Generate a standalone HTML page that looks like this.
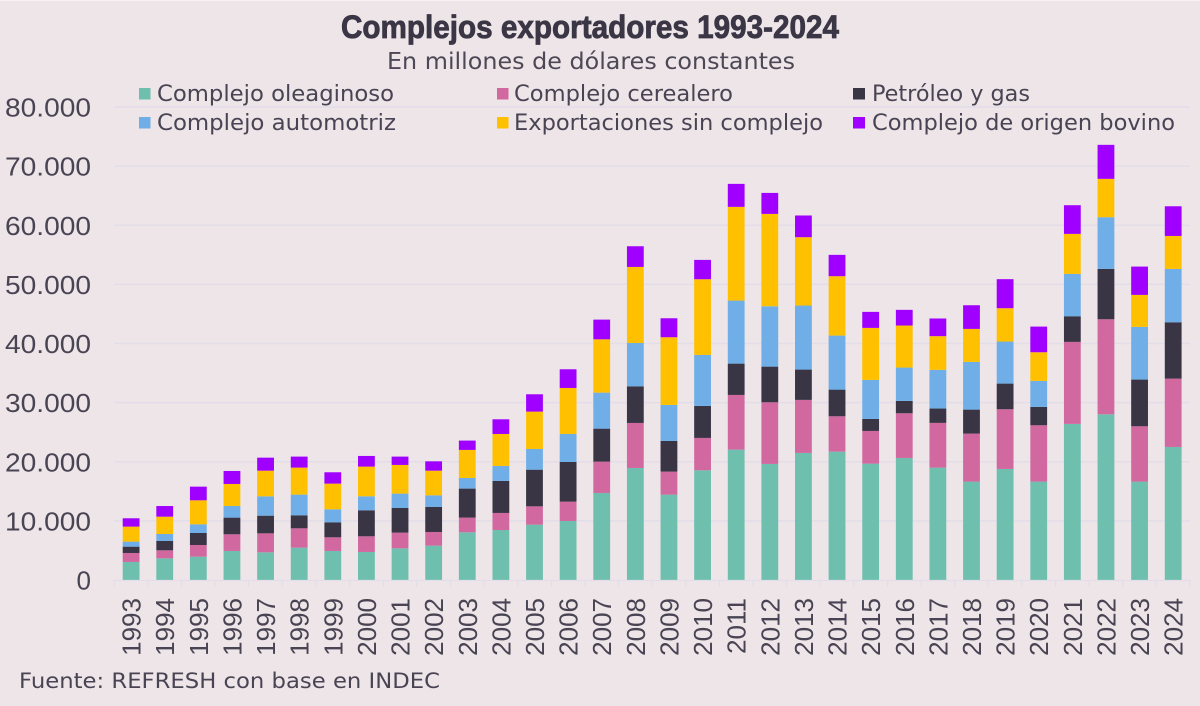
<!DOCTYPE html>
<html lang="es">
<head>
<meta charset="utf-8">
<title>Complejos exportadores 1993-2024</title>
<style>
html,body{margin:0;padding:0;background:#EDE5E8;}
svg{display:block;}
text{fill:#3B3645;}
.sans{font-family:"DejaVu Sans","Liberation Sans",sans-serif;}
.lib{font-family:"Liberation Sans",sans-serif;}
</style>
</head>
<body>
<svg id="chart" xmlns="http://www.w3.org/2000/svg" width="1200" height="706" viewBox="0 0 1200 706">
  <rect x="0" y="0" width="1200" height="706" fill="#EDE5E8"/>
  <rect x="0" y="0" width="1200" height="1" fill="#F7F3F5"/>
  <g id="grid"></g>
  <g id="bars"></g>
  <g id="xaxis"></g>
  <g id="yaxis"></g>

  <text class="lib" x="341" y="38" font-size="32" font-weight="700" stroke="#3B3645" stroke-width="0.8" textLength="498" lengthAdjust="spacingAndGlyphs">Complejos exportadores 1993-2024</text>
  <text class="sans" x="387" y="69" font-size="23" textLength="408" lengthAdjust="spacingAndGlyphs" fill-opacity="0.9">En millones de dólares constantes</text>

  <g>
    <g>
      <rect x="139" y="88" width="11.5" height="11.5" fill="#6FBFAE"/>
      <text class="sans" x="157" y="101" font-size="22" textLength="237" lengthAdjust="spacingAndGlyphs" fill-opacity="0.92">Complejo oleaginoso</text>
    </g>
    <g>
      <rect x="497" y="88" width="11.5" height="11.5" fill="#D268A0"/>
      <text class="sans" x="514" y="101" font-size="22" textLength="219" lengthAdjust="spacingAndGlyphs" fill-opacity="0.92">Complejo cerealero</text>
    </g>
    <g>
      <rect x="853" y="88" width="12" height="11.5" fill="#3A3545"/>
      <text class="sans" x="872" y="101" font-size="22" textLength="158" lengthAdjust="spacingAndGlyphs" fill-opacity="0.92">Petróleo y gas</text>
    </g>
    <g>
      <rect x="139" y="117" width="11.5" height="11.5" fill="#6FAEE6"/>
      <text class="sans" x="157" y="130" font-size="22" textLength="239" lengthAdjust="spacingAndGlyphs" fill-opacity="0.92">Complejo automotriz</text>
    </g>
    <g>
      <rect x="497" y="117" width="11.5" height="11.5" fill="#FFC000"/>
      <text class="sans" x="514" y="130" font-size="22" textLength="309" lengthAdjust="spacingAndGlyphs" fill-opacity="0.92">Exportaciones sin complejo</text>
    </g>
    <g>
      <rect x="853" y="117" width="12" height="11.5" fill="#A000FF"/>
      <text class="sans" x="872" y="130" font-size="22" textLength="303" lengthAdjust="spacingAndGlyphs" fill-opacity="0.92">Complejo de origen bovino</text>
    </g>
  </g>

  <text class="sans" x="19" y="688" font-size="21" textLength="421" lengthAdjust="spacingAndGlyphs" fill-opacity="0.92">Fuente: REFRESH con base en INDEC</text>
</svg>
<script>
const years = ["1993","1994","1995","1996","1997","1998","1999","2000","2001","2002","2003","2004","2005","2006","2007","2008","2009","2010","2011","2012","2013","2014","2015","2016","2017","2018","2019","2020","2021","2022","2023","2024"];
const yTicks = [0,10000,20000,30000,40000,50000,60000,70000,80000];
const yTickLabels = ["0","10.000","20.000","30.000","40.000","50.000","60.000","70.000","80.000"];
const oleaginoso = [3050,3670,3950,4910,4680,5470,4910,4740,5360,5810,8070,8460,9360,9980,14720,18950,14440,18560,22050,19630,21490,21710,19680,20640,19010,16640,18780,16640,26400,28030,16640,22500];
const cerealero = [1520,1350,1970,2820,3210,3270,2310,2650,2650,2310,2480,2880,3100,3270,5300,7610,3890,5470,9250,10430,8970,5980,5530,7560,7560,8120,10100,9530,13870,16070,9360,11560];
const petroleoGas = [1070,1580,2030,2820,2990,2200,2540,4400,4170,4230,4910,5410,6200,6710,5580,6200,5190,5410,5300,6030,5130,4510,2030,2090,2430,4060,4340,3100,4340,8520,7900,9530];
const automotriz = [850,1180,1470,1970,3270,3500,2200,2370,2430,1970,1800,2540,3500,4740,6090,7330,6090,8630,10660,10210,10830,9140,6600,5640,6540,8070,7110,4400,7160,8740,8910,9020];
const sinComplejo = [2540,2930,4060,3720,4340,4570,4340,5020,4850,4170,4740,5410,6320,7780,9020,12860,11450,12800,15850,15620,11560,10040,8800,7110,5700,5580,5640,4850,6770,6490,5410,5580];
const bovino = [1410,1800,2310,2200,2200,1860,1920,1800,1410,1580,1580,2480,2930,3160,3330,3500,3210,3270,3890,3550,3670,3610,2710,2650,2990,4000,4910,4340,4850,5750,4790,5020];
const seriesList = [oleaginoso,cerealero,petroleoGas,automotriz,sinComplejo,bovino];
const seriesNames = ["oleaginoso","cerealero","petroleo-gas","automotriz","sin-complejo","bovino"];
const seriesColors = ["#6FBFAE","#D268A0","#3A3545","#6FAEE6","#FFC000","#A000FF"];

const NS = "http://www.w3.org/2000/svg";
const plotLeft = 114.3, plotRight = 1190, plotBase = 580, plotTop = 107;
const yMax = 80000;
const band = (plotRight - plotLeft) / years.length;
const barW = 16.8;
function yScale(v){ return plotBase - (v / yMax) * (plotBase - plotTop); }
function xCenter(i){ return plotLeft + band * (i + 0.5); }

const gridG = document.getElementById('grid');
const barsG = document.getElementById('bars');
const xG = document.getElementById('xaxis');
const yG = document.getElementById('yaxis');

yTicks.forEach(function(t, i){
  const y = yScale(t);
  if (t > 0) {
    const ln = document.createElementNS(NS, 'line');
    
    
    ln.setAttribute('x1', plotLeft); ln.setAttribute('x2', plotRight);
    ln.setAttribute('y1', y); ln.setAttribute('y2', y);
    ln.setAttribute('stroke', '#E2DDE9'); ln.setAttribute('stroke-width', '1.5');
    gridG.appendChild(ln);
  }
  const tx = document.createElementNS(NS, 'text');
  
  
  tx.setAttribute('class', 'lib');
  tx.setAttribute('x', 91); tx.setAttribute('y', y + 9.5);
  tx.setAttribute('text-anchor', 'end');
  tx.setAttribute('font-size', '26');
  tx.setAttribute('fill-opacity', '0.92');
  if (yTickLabels[i].length > 1) {
    tx.setAttribute('textLength', '86');
    tx.setAttribute('lengthAdjust', 'spacingAndGlyphs');
  }
  tx.textContent = yTickLabels[i];
  yG.appendChild(tx);
});

years.forEach(function(yr, i){
  let cum = 0;
  seriesList.forEach(function(arr, s){
    const top = yScale(cum + arr[i]);
    const bot = yScale(cum);
    const r = document.createElementNS(NS, 'rect');
    
    
    r.setAttribute('x', xCenter(i) - barW / 2);
    r.setAttribute('y', top);
    r.setAttribute('width', barW);
    r.setAttribute('height', bot - top);
    r.setAttribute('fill', seriesColors[s]);
    barsG.appendChild(r);
    cum += arr[i];
  });
  const lb = document.createElementNS(NS, 'text');
  
  
  lb.setAttribute('class', 'lib');
  const lx = xCenter(i) + 9.5, ly = 598;
  lb.setAttribute('x', lx); lb.setAttribute('y', ly);
  lb.setAttribute('text-anchor', 'end');
  lb.setAttribute('font-size', '26');
  lb.setAttribute('fill-opacity', '0.92');
  lb.setAttribute('transform', 'rotate(-90 ' + lx + ' ' + ly + ')');
  lb.textContent = yr;
  xG.appendChild(lb);
});

for (let i = 0; i <= years.length; i++) {
  const tk = document.createElementNS(NS, 'line');
  
  
  const tkx = plotLeft + band * i;
  tk.setAttribute('x1', tkx); tk.setAttribute('x2', tkx);
  tk.setAttribute('y1', plotBase); tk.setAttribute('y2', plotBase + 7);
  tk.setAttribute('stroke', '#E2DDE9'); tk.setAttribute('stroke-width', '1.2');
  xG.appendChild(tk);
}
const base = document.createElementNS(NS, 'line');


base.setAttribute('x1', plotLeft); base.setAttribute('x2', plotRight);
base.setAttribute('y1', plotBase + 0.5); base.setAttribute('y2', plotBase + 0.5);
base.setAttribute('stroke', '#E2DDE9'); base.setAttribute('stroke-width', '1.2');
xG.appendChild(base);
</script>
</body>
</html>
